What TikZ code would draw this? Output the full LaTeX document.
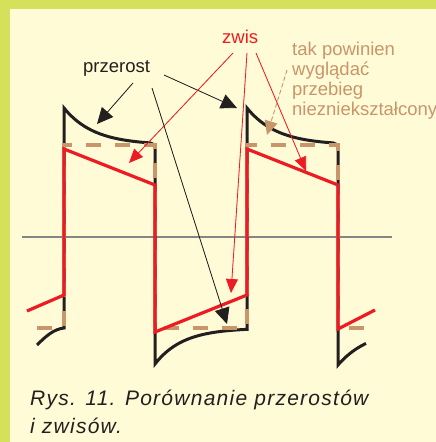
\documentclass[tikz,border=0pt]{standalone}
\usepackage{fontspec}
\setmainfont{Liberation Sans}
\newfontfamily\capfont[LetterSpace=6]{Liberation Sans}
\usetikzlibrary{arrows.meta}
\definecolor{frame}{HTML}{D5E05B}
\definecolor{paper}{HTML}{FFFBD6}
\definecolor{ink}{HTML}{231F20}
\definecolor{sag}{HTML}{ED1C24}
\definecolor{ideal}{HTML}{C9956B}
\definecolor{axis}{HTML}{858585}
\tikzset{
  base/.style={font=\fontsize{18.5}{20}\selectfont, inner sep=0pt, anchor=base west},
  label/.style={base, text=ink},
  sagtext/.style={base, text=sag},
  idealtext/.style={base, text=ideal, align=left},
  caption/.style={base, text=ink, align=left, font=\capfont\itshape\fontsize{21}{28}\selectfont},
  wave/.style={line width=3pt, draw=ink},
  sagwave/.style={line width=3.2pt, draw=sag},
  idealwave/.style={line width=3.6pt, draw=ideal, dash pattern=on 15pt off 14pt},
  arrow/.style={-{Triangle[length=16pt,width=15pt]}, line width=0.8pt, draw=ink, fill=ink},
  sagarrow/.style={-{Triangle[length=14pt,width=12pt]}, line width=0.8pt, draw=sag, fill=sag},
  idealarrow/.style={-{Triangle[length=14pt,width=13pt]}, line width=0.9pt, draw=ideal, fill=ideal, dash pattern=on 4pt off 3pt},
}

\begin{document}
\begin{tikzpicture}[x=1pt,y=-1pt]
  \useasboundingbox (0,0) rectangle (436,442);
  \fill[frame] (0,0) rectangle (436,442);
  \fill[paper] (10,9) rectangle (436,442);

  % zero line
  \draw[axis, line width=1.3pt] (22,237) -- (392,237);

  % distorted waveform (overshoot)
  \draw[wave] (37,345) .. controls (46,336) and (54,329) .. (64,328) -- (64,108)
    -- plot[domain=0:86, samples=40] ({64+\x},{145-37*exp(-\x/30)}) -- (155,145) -- (155,364)
    -- plot[domain=0:92, samples=40] ({155+\x},{328+36*exp(-\x/28)}) -- (247,328) -- (247,108)
    -- plot[domain=0:86, samples=40] ({247+\x},{145-37*exp(-\x/30)}) -- (338,145) -- (338,365)
    -- plot[domain=0:28, samples=20] ({338+\x},{328+37*exp(-\x/32)});

  % ideal waveform
  \draw[idealwave] (37,328) -- (64,328) -- (64,145) -- (155,145) -- (155,328)
    -- (247,328) -- (247,145) -- (338,145) -- (338,328) -- (366,328);

  % waveform with sag
  \draw[sagwave] (27,311) -- (64,295) -- (64,149) -- (155,185) -- (155,332)
    -- (247,295) -- (247,149) -- (338,185) -- (338,329) -- (375,310);

  % labels (multi-line ones sit on their last baseline)
  \node[label] (przerost) at (83,72) {przerost};
  \node[sagtext] (zwis) at (222,43) {zwis};
  \node[idealtext] (tak) at (292,115) {tak powinien\\wyglądać\\przebieg\\niezniekształcony};
  \node[caption] (rys) at (30,433) {Rys. 11. Porównanie przerostów\\i zwisów.};

  \coordinate (p1) at (133,83);  \coordinate (p1t) at (97,124);
  \coordinate (p2) at (164,75);  \coordinate (p2t) at (237,108);
  \coordinate (p3) at (152,88);  \coordinate (p3t) at (227,324);
  \coordinate (z1) at (233,53);  \coordinate (z1t) at (129,163);
  \coordinate (z2) at (247,53);  \coordinate (z2t) at (231,293);
  \coordinate (z3) at (256,53);  \coordinate (z3t) at (306,171);
  \coordinate (t1) at (287,70);  \coordinate (t1t) at (267,135);

  \draw[arrow] (p1) -- (p1t);
  \draw[arrow] (p2) -- (p2t);
  \draw[arrow] (p3) -- (p3t);
  \draw[sagarrow] (z1) -- (z1t);
  \draw[sagarrow] (z2) -- (z2t);
  \draw[sagarrow] (z3) -- (z3t);
  \draw[idealarrow] (t1) -- (t1t);
\end{tikzpicture}
\end{document}
